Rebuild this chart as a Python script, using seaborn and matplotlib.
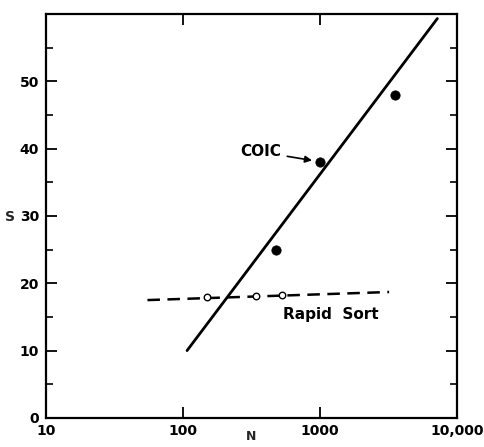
import numpy as np
import pandas as pd
import matplotlib
matplotlib.use("Agg")
import matplotlib.pyplot as plt
import seaborn as sns

# fitted lines (end points)
coic_line_n = [107, 7200]
coic_line_s = [10, 59.3]
rapid_line_n = [55, 3200]
rapid_line_s = [17.5, 18.7]

# measured points
coic_n = [480, 1000, 3550]
coic_s = [25, 38, 48]
rapid_n = [150, 340, 525]
rapid_s = [18.0, 18.1, 18.3]

x_ticks = [10, 100, 1000, 10000]
x_labels = ["10", "100", "1000", "10,000"]
y_ticks = [0, 10, 20, 30, 40, 50]

sns.set_style("ticks")
plt.rcParams['font.family'] = ['DejaVu Sans']
plt.rcParams['font.weight'] = 'bold'
plt.rcParams['text.color'] = 'black'
plt.rcParams['xtick.color'] = 'black'
plt.rcParams['ytick.color'] = 'black'
plt.rcParams['axes.edgecolor'] = 'black'

fig = plt.figure(figsize=(4.85, 4.47), dpi=100)
ax = fig.add_axes([0.095, 0.065, 0.847, 0.904])

sns.lineplot(x=coic_line_n, y=coic_line_s, ax=ax, color="black", lw=2)
sns.lineplot(x=rapid_line_n, y=rapid_line_s, ax=ax, color="black", lw=1.8,
             linestyle=(0, (5, 3)))
sns.scatterplot(x=coic_n, y=coic_s, ax=ax, color="black", s=45, zorder=3,
                edgecolor="black")
sns.scatterplot(x=rapid_n, y=rapid_s, ax=ax, facecolor="white", s=22,
                edgecolor="black", linewidth=1, zorder=3)

ax.set_xscale("log")
ax.set_xlim(10, 10000)
ax.set_ylim(0, 60)
ax.set_xticks(x_ticks)
ax.set_xticklabels(x_labels)
ax.xaxis.set_minor_locator(matplotlib.ticker.NullLocator())
ax.set_yticks(y_ticks)
ax.set_yticks([5, 15, 25, 35, 45, 55], minor=True)

ax.tick_params(axis="both", which="major", direction="in", length=8, width=1.3,
               labelsize=10, top=True, right=True)
ax.tick_params(axis="x", which="major", pad=4)
ax.tick_params(axis="y", which="major", pad=5)
ax.tick_params(axis="y", which="minor", direction="in", length=5, width=1.2,
               right=True)
for sp in ax.spines.values():
    sp.set_linewidth(1.6)

ax.set_xlabel("N", fontsize=9, fontweight="bold", va="center")
ax.xaxis.set_label_coords(0.5, -0.045)
ax.set_ylabel("S", fontsize=10, fontweight="bold", rotation=0)
ax.yaxis.set_label_coords(-0.088, 0.48)

ax.annotate("COIC", xy=(960, 38.1), xytext=(370, 39.5), fontsize=11,
            fontweight="bold", ha="center", va="center",
            arrowprops=dict(arrowstyle="-|>", color="black", lw=1.2,
                            shrinkA=2, shrinkB=4, mutation_scale=10))
ax.text(1200, 15.3, "Rapid  Sort", fontsize=11, fontweight="bold",
        ha="center", va="center")

fig.savefig("out.png", dpi=100)
